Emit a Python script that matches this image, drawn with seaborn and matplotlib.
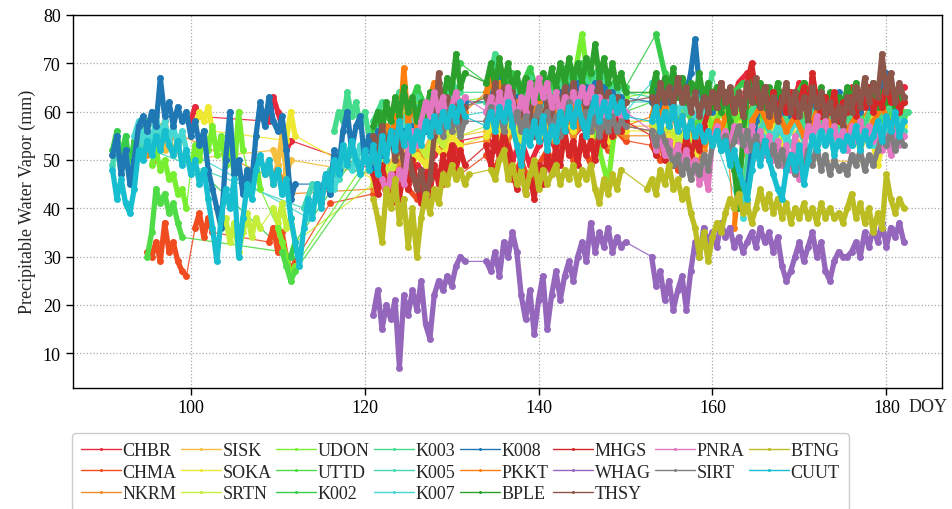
import numpy as np
import pandas as pd
import matplotlib
matplotlib.use("Agg")
import matplotlib.pyplot as plt
from matplotlib.lines import Line2D
import seaborn as sns

# ---------------- data (DOY segments: (start DOY, sample step, PWV values)) ----------------
STATIONS = ["CHBR", "CHMA", "NKRM", "SISK", "SOKA", "SRTN", "UDON", "UTTD", "K002",
            "K003", "K005", "K007", "K008", "PKKT", "BPLE", "MHGS", "WHAG", "THSY",
            "PNRA", "SIRT", "BTNG", "CUUT"]

CHBR = [(100.0, 0.5, [58, 61, 59]),
        (109.0, 0.5, [58, 63, 60, 57, 52, 54]),
        (121.0, 1.0, [48, 52, 46, 50, 45, 49, 47, 51, 53, 50, 54]),
        (134.0, 1.0, [55, 52, 57, 50, 54, 49, 53, 56, 52, 58, 55, 57, 54, 59, 56, 58, 57]),
        (153.0, 1.0, [56, 53, 55, 52, 54, 51, 56, 61, 64, 60, 66, 68, 63, 65, 61, 64, 60, 66,
                      62, 64, 59, 63, 61, 65, 60, 64, 62, 66, 63, 65])]
CHMA = [(95.0, 0.5, [31, 30, 33, 29, 37, 31, 33, 29, 27, 26]),
        (100.5, 0.5, [36, 39, 34, 38, 35]),
        (109.0, 0.5, [33, 36, 31, 35, 30, 27, 29]),
        (116.0, 1.0, [41]),
        (121.0, 1.0, [43, 45, 41, 47, 44, 42, 46, 48, 45, 50, 47]),
        (134.0, 1.0, [51, 48, 53, 46, 50, 45, 49, 52, 48, 54, 50, 53, 49, 55, 52, 56, 54]),
        (153.0, 1.0, [53, 50, 52, 48, 51, 49, 53, 58, 62, 59, 63, 60, 62, 58, 61, 57, 60, 63,
                      59, 62, 58, 61, 59, 63, 60, 62, 59, 63, 61, 62])]
NKRM = [(95.0, 0.5, [51, 53, 50, 55, 58, 54, 56, 53, 55]),
        (108.5, 0.5, [47, 50, 45, 49, 44, 48, 43]),
        (121.0, 1.0, [44, 48, 46, 50, 47, 52, 49, 53, 51, 55, 53]),
        (134.0, 1.0, [54, 57, 52, 56, 53, 58, 54, 57, 53, 59, 55, 58, 54, 57, 53, 56, 55]),
        (153.0, 1.0, [55, 52, 54, 51, 53, 50, 52, 57, 60, 58, 62, 59, 61, 57, 60, 56, 59, 62,
                      58, 61, 57, 60, 56, 61, 58, 60, 57, 61, 58, 60])]
SISK = [(96.0, 0.5, [54, 57, 52, 55, 51, 53, 50]),
        (109.5, 0.5, [52, 49, 55, 47, 50]),
        (121.0, 1.0, [47, 51, 49, 53, 50, 54, 52, 56, 54, 57, 55]),
        (134.0, 1.0, [56, 59, 55, 58, 54, 60, 56, 59, 55, 61, 57, 60, 56, 59, 55, 58, 57]),
        (153.0, 1.0, [57, 54, 56, 53, 55, 52, 54, 58, 61, 57, 60, 56, 59, 55, 58, 54, 57, 53, 50]),
        (178.5, 1.0, [49.5, 55, 57, 54])]
SOKA = [(100.5, 0.5, [57, 60, 58, 61, 56]),
        (111.0, 0.5, [54, 60, 55]),
        (121.0, 1.0, [46, 49, 48, 52, 47, 51, 49, 53, 51, 55, 53]),
        (134.0, 1.0, [55, 58, 54, 57, 53, 59, 55, 58, 54, 60, 56, 59, 55, 58, 54, 57, 56]),
        (153.0, 1.0, [56, 53, 55, 52, 54, 51, 53, 57, 60, 56, 59, 55, 58, 54, 57, 53, 56, 59,
                      55, 58, 54, 57, 53, 58, 52, 57, 49, 56, 54, 57])]
SRTN = [(103.0, 0.5, [40, 36, 38, 33, 37, 31, 35, 39, 34, 38, 36]),
        (109.5, 0.5, [40, 37, 41, 36, 38, 33]),
        (121.0, 1.0, [45, 50, 47, 52, 49, 54, 51, 55, 53, 57, 55]),
        (134.0, 1.0, [57, 60, 56, 59, 55, 61, 57, 60, 56, 62, 58, 61, 57, 60, 56, 59, 58]),
        (153.0, 1.0, [58, 55, 57, 54, 56, 53, 55, 59, 62, 58, 61, 57, 60, 56, 59, 55, 58, 61,
                      57, 60, 56, 59, 55, 60, 57, 59, 56, 60, 57, 59])]
UDON = [(95.5, 0.5, [49, 52, 48, 50, 46, 47, 43, 44, 40]),
        (100.0, 0.5, [48, 53, 50, 56, 52, 57, 51, 55, 49, 53, 47, 60, 52]),
        (106.5, 0.5, [48, 45, 50, 44]),
        (110.0, 0.5, [36, 33, 30, 26, 28]),
        (121.0, 1.0, [52, 58, 55, 61, 57, 63, 59, 62, 60, 65, 62]),
        (134.0, 1.0, [63, 67, 61, 65, 60, 64, 62, 66, 63, 68, 66, 76, 62, 52, 45, 60, 63]),
        (153.0, 1.0, [64, 60, 63, 59, 62, 58, 61, 57, 60, 56, 59, 58, 61, 57, 60, 56, 59, 57,
                      60, 56, 58, 55, 59, 56, 58, 55, 57, 60, 58, 59])]
UTTD = [(95.0, 0.5, [30, 35, 44, 41, 43, 39, 41, 37, 34]),
        (110.5, 0.5, [31, 28, 25, 27]),
        (121.0, 1.0, [50, 55, 53, 58, 54, 60, 56, 59, 61, 64, 62]),
        (134.0, 1.0, [62, 66, 60, 64, 61, 65, 59, 63, 61, 66, 64, 67, 63, 62, 58, 61, 60]),
        (153.0, 1.0, [62, 59, 61, 58, 60, 57, 59, 62, 60, 58, 61, 59, 62, 58, 60, 57, 61, 58,
                      60, 57, 59, 56, 60, 57, 59, 56, 58, 61, 59, 60])]
K002 = [(91.0, 0.5, [52, 56, 50, 55, 49, 54, 57, 53, 58]),
        (111.5, 0.5, [30, 33]),
        (121.0, 1.0, [56, 60, 58, 63, 60, 65, 61, 64, 62, 66, 70]),
        (134.0, 1.0, [66, 70, 64, 68, 65, 69, 63, 67, 64, 69, 66, 70, 67, 69, 64, 67, 65]),
        (153.5, 1.0, [76, 68, 65, 67, 64, 66, 63, 65, 62, 64, 66, 63, 65, 62, 64, 61, 63, 66,
                      62, 64, 61, 63, 60, 65, 62, 64, 61, 63, 62])]
K003 = [(116.5, 0.5, [56, 60, 58, 64, 59, 62, 57, 60, 55]),
        (121.0, 1.0, [58, 62, 59, 64, 60, 63, 61, 65, 62, 66, 64]),
        (134.0, 1.0, [64, 72, 62, 66, 63, 67, 61, 65, 62, 67, 64, 68, 65, 69, 63, 66, 64]),
        (153.0, 1.0, [63, 66, 62, 65, 61, 64, 60, 68]),
        (163.5, 1.0, [40, 60, 63, 59, 62, 58, 61, 57, 60, 62, 59, 61, 58, 60, 57, 62, 59, 61,
                      58, 60])]
K005 = [(91.0, 0.5, [49, 53, 47, 52, 46, 50, 54, 51, 55, 52]),
        (113.0, 1.0, [40, 45, 43, 48, 46, 52, 50, 54]),
        (121.0, 1.0, [54, 58, 56, 60, 57, 61, 58, 62, 60, 63, 61]),
        (134.0, 1.0, [62, 65, 60, 64, 61, 63, 59, 62, 60, 64, 61, 65, 62, 66, 61, 64, 62]),
        (153.0, 1.0, [62, 65, 61, 64, 60, 63, 59, 62]),
        (164.0, 1.0, [42, 55, 58, 54, 57, 53, 56, 52, 55, 58, 54, 57, 53, 56, 55, 57, 54, 58, 56])]
K007 = [(93.5, 0.5, [55, 58, 54, 57, 53, 59, 55, 58, 54, 57, 53, 56, 52]),
        (113.5, 1.0, [38, 42, 46, 44, 50, 48, 53]),
        (121.0, 1.0, [52, 56, 54, 58, 55, 59, 56, 60, 58, 61, 59]),
        (134.0, 1.0, [60, 63, 58, 62, 59, 61, 57, 60, 58, 62, 59, 63, 60, 64, 59, 62, 60]),
        (153.0, 1.0, [66, 62, 64, 60, 63, 59, 61]),
        (163.5, 1.0, [38, 52, 56, 53, 57, 54, 58, 55, 57, 54, 58, 55, 57, 54, 56, 53, 57, 55, 58])]
K008 = [(91.0, 0.5, [51, 55, 47, 52, 45, 50, 57, 59, 56, 60, 57, 67, 59, 62, 57, 61, 58, 60,
                     55, 58, 53, 56, 48, 44, 40, 36, 50, 60, 47, 50, 43, 48, 45, 55, 62, 57,
                     63, 58, 56, 59, 52, 42, 45]),
        (114.5, 0.5, [45, 41, 47, 43, 52, 48, 56, 60, 52, 57, 59, 50, 55, 48, 56, 51, 57, 53,
                      58, 52, 56, 53, 57, 55, 59, 56, 60, 57, 61, 58, 62, 59, 63, 60, 62]),
        (134.5, 0.5, [62, 66, 68, 62, 65, 60, 63, 58, 62, 59, 63, 60, 64, 61, 63, 60, 64, 61,
                      65, 62, 66, 63, 65, 62, 66, 63, 65, 62, 64, 61, 63]),
        (153.0, 0.5, [62, 65, 61, 66, 62, 67, 63, 66, 64, 68, 75, 65, 62, 64, 60, 63, 61]),
        (164.0, 0.5, [44, 52, 58, 62, 60, 63, 61, 64, 60, 63, 59, 62, 60, 63, 61, 64, 60, 62,
                      59, 63, 61, 64, 60, 63, 61, 62, 60, 63, 61, 66, 62, 65, 68, 63, 64, 61,
                      63])]
PKKT = [(121.0, 0.5, [50, 54, 52, 57, 54, 59, 56, 69, 58, 62, 57, 61, 58, 63, 66, 60, 63,
                      59, 62, 58, 61, 60]),
        (134.0, 0.5, [64, 68, 62, 66, 61, 64, 58, 62, 57, 61, 55, 59, 62, 58, 61, 57, 63, 59,
                      62, 58, 61, 57, 62, 58, 61, 57, 60, 56, 59, 55, 58, 56, 57]),
        (153.0, 0.5, [59, 62, 58, 61, 57, 60, 56, 59, 55, 58, 54, 57, 53, 56, 55, 58, 56, 59]),
        (162.5, 0.5, [36, 45]),
        (164.5, 1.0, [58, 61, 57, 60, 56, 59, 55, 58, 62, 57, 60, 56, 59, 55, 58, 61, 57, 62])]
BPLE = [(121.0, 0.5, [57, 60, 56, 62, 58, 63, 59, 65, 60, 63, 58, 62, 59, 64, 61, 66, 62,
                      67, 64, 72, 65, 68]),
        (134.0, 0.5, [66, 70, 65, 71, 66, 70, 64, 68, 63, 67, 62, 66, 63, 68, 64, 69, 65, 70,
                      66, 71, 67, 70, 66, 71, 68, 74, 67, 71, 66, 70, 65, 68, 64]),
        (153.0, 0.5, [64, 68, 63, 67, 64, 69, 63, 67, 62, 66, 63, 68, 62, 66, 61, 65, 60, 64,
                      58, 48, 40, 55, 63, 67, 62, 66, 61, 65, 62, 66, 61, 65, 60, 64, 62, 66,
                      61, 67, 62, 65, 61, 64, 60, 63, 61, 65, 62, 66, 61, 64, 62, 66, 61, 64,
                      62, 65, 61, 63, 62])]
MHGS = [(121.0, 0.5, [47, 43, 49, 44, 41, 47, 42, 48, 44, 50, 45, 41, 47, 43, 49, 45, 51,
                      47, 53, 48, 52, 49]),
        (134.0, 0.5, [53, 49, 55, 51, 56, 52, 48, 44, 50, 43, 47, 42, 49, 45, 51, 47, 53, 49,
                      56, 51, 54, 49, 55, 51, 54, 50, 56, 53, 58, 55, 59, 56, 58]),
        (153.0, 0.5, [55, 51, 56, 50, 54, 49, 53, 50, 55, 51, 54, 52, 57, 60, 64, 61, 66, 62,
                      64, 60, 63, 61, 66, 70, 64, 61, 65, 60, 64, 59, 63, 60, 64, 59, 62, 65,
                      60, 68, 62, 59, 63, 60, 64, 58, 62, 60, 63, 59, 64, 61, 65, 60, 63, 61,
                      66, 62, 64, 60, 62])]
WHAG = [(121.0, 0.5, [18, 23, 15, 20, 17, 21, 7, 22, 18, 23, 19, 25, 16, 13, 22, 25, 23,
                      26, 24, 28, 30, 29]),
        (134.0, 0.5, [29, 27, 31, 26, 33, 30, 35, 31, 22, 17, 23, 14, 21, 26, 15, 22, 27, 21,
                      26, 29, 25, 30, 33, 29, 37, 31, 35, 32, 36, 31, 34, 32, 33]),
        (153.0, 0.5, [30, 24, 27, 21, 25, 19, 23, 26, 19, 27, 33, 30, 36, 33, 35, 32, 37, 34,
                      36, 32, 34, 31, 33, 35, 32, 36, 33, 35, 31, 34, 28, 25, 27, 30, 33, 29,
                      32, 35, 30, 33, 27, 25, 29, 31, 30, 30, 31, 33, 30, 35, 32, 36, 33, 37,
                      32, 36, 34, 37, 33])]
THSY = [(121.0, 0.5, [55, 52, 57, 53, 56, 50, 54, 49, 52, 47, 44, 48, 42, 46, 55, 68, 59,
                      63, 58, 62, 57, 61]),
        (134.0, 0.5, [63, 60, 66, 61, 65, 59, 64, 58, 62, 57, 61, 55, 60, 57, 62, 59, 64, 60,
                      65, 61, 66, 62, 64, 60, 65, 62, 66, 61, 64, 60, 63, 59, 62]),
        (153.0, 0.5, [63, 60, 66, 62, 65, 61, 67, 62, 65, 60, 64, 59, 63, 60, 64, 61, 66, 62,
                      65, 60, 64, 59, 66, 62, 67, 61, 65, 59, 63, 58, 62, 66, 60, 64, 59, 63,
                      58, 65, 61, 64, 59, 62, 58, 61, 57, 63, 60, 65, 61, 67, 62, 66, 63, 72,
                      64, 68, 62, 66, 63])]
PNRA = [(122.0, 0.5, [46, 43, 47, 44, 48, 45, 52, 56, 53, 58, 62, 59, 64, 60, 63, 58, 61,
                      64, 61, 63]),
        (134.0, 0.5, [60, 63, 59, 64, 60, 65, 62, 58, 63, 60, 66, 62, 67, 63, 66, 61, 64, 59,
                      63, 60, 64, 61, 65, 62, 65, 60, 63, 59, 62, 58, 61, 59, 60]),
        (153.0, 0.5, [56, 52, 55, 51, 54, 50, 53, 49, 52, 48, 50, 45, 48, 44, 54, 57, 54, 56,
                      53, 57, 54, 56, 52, 57, 53, 56, 51, 55, 50, 54, 49, 53, 48, 55, 46, 52,
                      57, 54, 59, 55, 58, 54, 57, 53, 56, 52, 57, 54, 58, 55, 57, 54, 56, 52,
                      55, 51, 56, 53, 55])]
SIRT = [(128.0, 0.5, [56, 59, 55, 60, 56, 59, 55, 58]),
        (134.0, 0.5, [58, 61, 57, 60, 56, 61, 57, 60, 56, 59, 55, 58, 61, 57, 60, 56, 59, 55,
                      58, 62, 58, 61, 57, 60, 56, 59, 55, 58, 56, 59, 56, 58, 57]),
        (153.0, 0.5, [56, 53, 57, 54, 52, 49, 51, 47, 50, 46, 49, 47, 51, 48, 53, 56, 52, 55,
                      51, 54, 57, 53, 56, 52, 55, 51, 54, 50, 53, 49, 52, 48, 51, 47, 50, 48,
                      52, 49, 53, 48, 51, 47, 50, 48, 49, 47, 51, 49, 52, 48, 51, 49, 52, 55,
                      53, 56, 52, 55, 53])]
BTNG = [(121.0, 0.5, [42, 38, 33, 44, 40, 46, 37, 42, 32, 40, 30, 38, 43, 39, 44, 41, 47,
                      45, 49, 46, 48, 45, 47]),
        (134.5, 0.5, [48, 46, 50, 52, 46, 49, 45, 48, 43, 47, 50, 44, 48, 45, 47, 49, 45, 48,
                      46, 49, 45, 48, 46, 49, 44, 41, 46, 43, 47, 44, 48]),
        (152.5, 0.5, [44, 46, 43, 48, 45, 49, 44, 46, 42, 44, 39, 36, 30, 35, 29, 34, 37, 35,
                      39, 42, 40, 43, 39, 41, 37, 40, 44, 40, 43, 39, 42, 38, 41, 37, 40, 38,
                      41, 38, 40, 37, 41, 38, 40, 38, 39, 37, 40, 43, 38, 41, 37, 40, 35, 39,
                      36, 47, 42, 39, 42, 40])]
CUUT = [(91.0, 0.5, [48, 42, 46, 41, 39, 44, 52, 50, 54, 51, 55, 52, 56, 53, 51, 54, 49,
                     52, 47, 50, 45, 48, 42, 36, 29, 38, 44, 40, 46, 30, 38, 45, 42, 48, 51,
                     47, 50, 45, 48, 43, 46, 38, 33, 28, 36, 42, 38, 45, 40, 47, 44, 50, 47,
                     53, 49, 54, 50, 47, 52, 48, 53, 47, 55, 50, 56, 52, 58, 53, 57, 52, 56,
                     53, 58, 55, 59, 56, 60, 57, 61, 58, 62, 59]),
        (134.0, 0.5, [57, 60, 56, 61, 58, 62, 57, 53, 49, 56, 53, 58, 54, 59, 52, 57, 54, 60,
                      56, 61, 57, 62, 58, 55, 60, 63, 58, 62, 59, 63, 60, 62, 59]),
        (153.0, 0.5, [58, 61, 56, 60, 57, 61, 56, 59, 55, 58, 55, 57, 54, 56, 53, 56, 52, 54,
                      49, 52, 48, 45, 42, 48, 53, 49, 54, 50, 47, 44, 42, 48, 51, 48, 53, 45,
                      50, 55, 52, 56, 53, 56, 51, 54, 52, 55, 53, 57, 52, 56, 53, 55, 58, 54,
                      59, 56, 60, 55, 58])]

SEGMENTS = {"CHBR": CHBR, "CHMA": CHMA, "NKRM": NKRM, "SISK": SISK, "SOKA": SOKA,
            "SRTN": SRTN, "UDON": UDON, "UTTD": UTTD, "K002": K002, "K003": K003,
            "K005": K005, "K007": K007, "K008": K008, "PKKT": PKKT, "BPLE": BPLE,
            "MHGS": MHGS, "WHAG": WHAG, "THSY": THSY, "PNRA": PNRA, "SIRT": SIRT,
            "BTNG": BTNG, "CUUT": CUUT}

X_TICKS = [100, 120, 140, 160, 180]
Y_TICKS = [10, 20, 30, 40, 50, 60, 70, 80]

# ---------------- styles ----------------
COLORS = {"CHBR": "#e8283c", "CHMA": "#f04c20", "NKRM": "#f08c28", "SISK": "#f5bf40",
          "SOKA": "#eee830", "SRTN": "#c4ee3a", "UDON": "#78ee30", "UTTD": "#50dc46",
          "K002": "#38cc4c", "K003": "#44dc8c", "K005": "#46d6b4", "K007": "#46d8d2",
          "K008": "#1f77b4", "PKKT": "#ff7f0e", "BPLE": "#2ca02c", "MHGS": "#d62728",
          "WHAG": "#9467bd", "THSY": "#8c564b", "PNRA": "#e377c2", "SIRT": "#7f7f7f",
          "BTNG": "#bcbd22", "CUUT": "#17becf"}

rows = []
for st in STATIONS:
    for k, (start, step, vals) in enumerate(SEGMENTS[st]):
        for i, v in enumerate(vals):
            rows.append((st, k, start + step * i, v))
df = pd.DataFrame(rows, columns=["Station", "Seg", "DOY", "PWV"])

sns.set_style("ticks")
plt.rcParams["font.family"] = ["Liberation Serif", "DejaVu Serif"]

fig = plt.figure(figsize=(9.52, 5.10), dpi=100)
ax = fig.add_axes([72.5 / 952, 1 - 388.5 / 510, 869.5 / 952, 372.5 / 510])

# thin connecting lines across data gaps
sns.lineplot(data=df, x="DOY", y="PWV", hue="Station", hue_order=STATIONS,
             palette=COLORS, estimator=None, sort=False, ax=ax, legend=False,
             lw=0.9, alpha=0.9)
# dense observation segments
sns.lineplot(data=df, x="DOY", y="PWV", hue="Station", hue_order=STATIONS, units="Seg",
             palette=COLORS, estimator=None, sort=False, ax=ax, legend=False,
             lw=3.8, marker="o", markersize=5.0, markeredgewidth=0)

ax.set_xlim(86.4, 186.4)
ax.set_ylim(2.9, 80)
ax.set_xticks(X_TICKS)
ax.set_yticks(Y_TICKS)
ax.tick_params(labelsize=13, direction="out", length=5, width=1, colors="black")
ax.grid(True, linestyle=":", color="#a8a8a8", linewidth=0.9)
for sp in ax.spines.values():
    sp.set_visible(True)
    sp.set_color("black")
    sp.set_linewidth(1.0)
ax.set_xlabel("")
ax.set_ylabel("Precipitable Water Vapor (mm)", fontsize=13, labelpad=5)
ax.text(0.962, -0.028, "DOY", transform=ax.transAxes, ha="left", va="top", fontsize=13)

handles = [Line2D([], [], color=COLORS[s], lw=1.0, marker="o", markersize=2.2,
                  markeredgewidth=0) for s in STATIONS]
fig.legend(handles, STATIONS, loc="upper left", bbox_to_anchor=(72 / 952, 1 - 434 / 510),
           borderaxespad=0, ncol=8, fontsize=13, handlelength=2.2, handletextpad=0.1,
           columnspacing=0.25, labelspacing=0.25, borderpad=0.5, frameon=True,
           fancybox=True, edgecolor="#cccccc", framealpha=1)

fig.savefig("out.png", dpi=100)
